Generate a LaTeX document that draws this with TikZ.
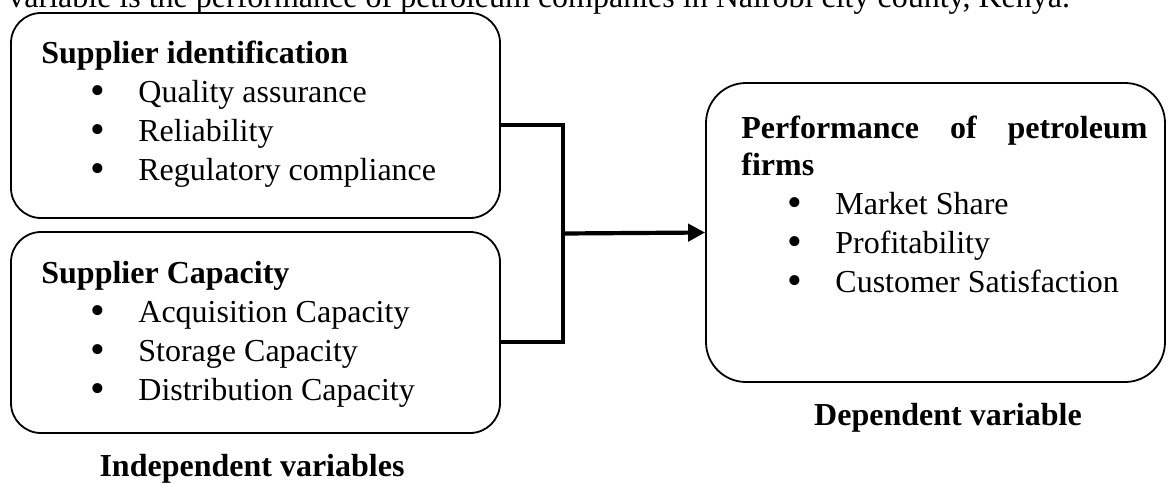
\documentclass[tikz,border=0pt]{standalone}
\usepackage{fontspec}
\setmainfont{Liberation Serif}
\usetikzlibrary{arrows.meta,fit,calc}
\tikzset{
  khung/.style={draw,rounded corners=15pt,line width=0.9pt,inner sep=0pt},
  chu/.style={anchor=base west,inner sep=0pt,font=\fontsize{16pt}{19pt}\selectfont},
  tieude/.style={chu,font=\fontsize{16pt}{19pt}\selectfont\bfseries},
  cham/.style={anchor=base,inner sep=0pt,font=\fontsize{21pt}{21pt}\selectfont},
  noi/.style={line width=2.1pt}
}
\begin{document}
\begin{tikzpicture}[x=0.5pt,y=-0.5pt]
\clip (0,0) rectangle (1168,483); % khung hinh
\node[chu] (dong) at (8,7) {variable is the performance of petroleum companies in Nairobi city county, Kenya.};
% bien doc lap
\node[khung,fit={(11,13) (500,218)}] (ident) {};
\node[tieude] (identT) at (41,63) {Supplier identification};
\foreach \t [count=\i] in {Quality assurance,Reliability,Regulatory compliance}{
  \node[cham] (identB\i) at (98,65+39*\i) {\textbullet};
  \node[chu] (ident\i) at (138,63+39*\i) {\t};
}
\node[khung,fit={(11,232) (500,433)}] (cap) {};
\node[tieude] (capT) at (41,283) {Supplier Capacity};
\foreach \t [count=\i] in {Acquisition Capacity,Storage Capacity,Distribution Capacity}{
  \node[cham] (capB\i) at (98,285+39*\i) {\textbullet};
  \node[chu] (cap\i) at (138,283+39*\i) {\t};
}
\node[tieude,anchor=base] (indep) at (252,476) {Independent variables};
% bien phu thuoc
\node[khung,rounded corners=20pt,fit={(706,83) (1165,382)}] (perf) {};
\node[tieude] (perfT) at (741,138) {\makebox[203pt][s]{Performance\hfill of\hfill petroleum}};
\node[tieude] (perfF) at (741,175) {firms};
\foreach \t [count=\i] in {Market Share,Profitability,Customer Satisfaction}{
  \node[cham] (perfB\i) at (795,177+39*\i) {\textbullet};
  \node[chu] (perf\i) at (835,175+39*\i) {\t};
}
\node[tieude,anchor=base] (dep) at (948,425) {Dependent variable};
% mui ten
\coordinate (jtop) at (563,125);
\coordinate (jbot) at (563,342);
\draw[noi] (ident.east |- jtop) -- (jtop) -- (jbot) -- (cap.east |- jbot);
\draw[noi,-{Triangle[length=8.5pt,width=8.5pt]}] ($(jtop)!.5!(jbot)$) -- (perf.west);
\end{tikzpicture}
\end{document}
